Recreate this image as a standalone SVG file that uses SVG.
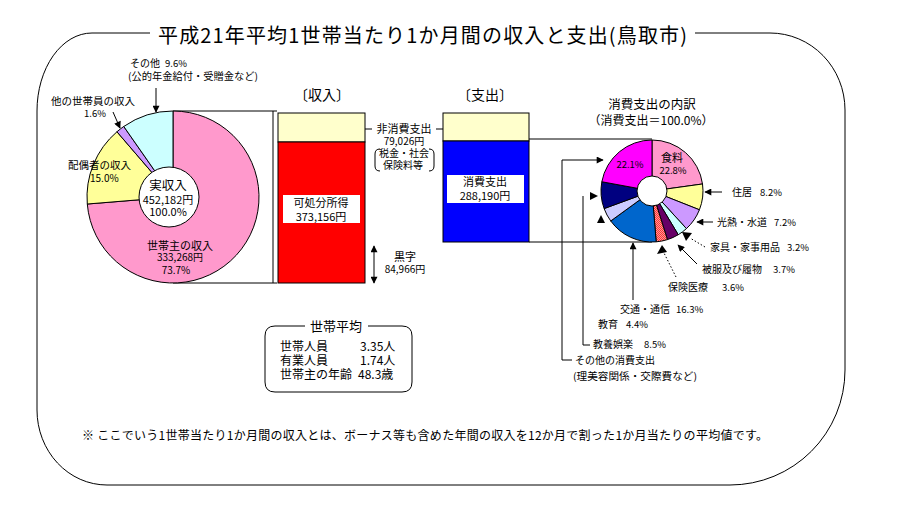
<svg xmlns="http://www.w3.org/2000/svg" width="911" height="518" viewBox="0 0 911 518">
<style>
text{font-family:"Noto Sans CJK JP","Noto Sans",sans-serif;fill:#000}
.ln{fill:none;stroke:#000;stroke-width:1}
.ar{fill:none;stroke:#000;stroke-width:1;marker-end:url(#ah)}
.dt{fill:none;stroke:#000;stroke-width:1;stroke-dasharray:1.5 2}
.wg{stroke:#000;stroke-width:1}
.f10{font-size:10px}.f11{font-size:11px}.f12{font-size:12px}.f13{font-size:13px}.f14{font-size:14px}.p9{font-size:9.5px}
</style>
<defs>
<marker id="ah" viewBox="0 0 10 10" refX="9" refY="5" markerWidth="8" markerHeight="7" markerUnits="userSpaceOnUse" orient="auto-start-reverse"><path d="M0,0 L10,5 L0,10 z" fill="#000"/></marker>
<pattern id="hatch" width="2" height="2" patternUnits="userSpaceOnUse"><rect width="2" height="2" fill="#FF9999"/><rect width="1" height="1" fill="#FF3333"/><rect x="1" y="1" width="1" height="1" fill="#FF3333"/></pattern>
</defs>
<rect width="911" height="518" fill="#fff"/>

<g id="frame">
<path class="ln" d="M150,33 H92 A55,78 0 0 0 37,111 V410 A70,75 0 0 0 107,485 H730 A115,115 0 0 0 845,370 V110 A75,77 0 0 0 770,33 H695"/>
<text x="158" y="43" style="font-size:20px" textLength="529" lengthAdjust="spacing">平成21年平均1世帯当たり1か月間の収入と支出(鳥取市)</text>
</g>

<g id="connectors">
<polyline class="ln" points="173,111 277,111"/>
<polyline class="ln" points="273,111 273,283"/>
<polyline class="ln" points="173,283 277,283"/>
<polyline class="ln" points="529,139 652,139"/>
<polyline class="ln" points="529,242 652,242"/>
<line class="ar" x1="156" y1="88" x2="156" y2="112"/>
<line class="ar" x1="113" y1="112" x2="120" y2="128"/>
<line class="ar" x1="372" y1="129" x2="347" y2="129"/>
<line class="ar" x1="436" y1="129" x2="462" y2="129"/>
<line class="ar" x1="374" y1="246" x2="374" y2="283" style="marker-start:url(#ah)"/>
<polyline class="ar" points="572,360 562,360 562,160 603,160"/>
<polyline class="ln" points="590,345 583,345 583,196"/>
<path d="M590,192 L598,196 L590,200 z"/>
<path d="M597,223 L601,215 L605,223 z"/>
<line class="ar" x1="633" y1="300" x2="633" y2="243"/>
<line class="dt" x1="676" y1="277" x2="664" y2="253"/>
<path d="M657,254 L662,245 L667,252 z"/>
<line class="ar" x1="697" y1="264" x2="678" y2="245"/>
<line class="dt" x1="705" y1="247" x2="690" y2="238"/>
<path d="M682,232 L692,233 L686,241 z"/>
<line class="ar" x1="713" y1="222" x2="697" y2="222"/>
<line class="ar" x1="722" y1="192" x2="705" y2="192"/>
</g>

<g id="income-pie">
<path class="wg" fill="#FF99CC" d="M173,197 L173,111 A86,86 0 1 1 87.29,204.02 Z"/>
<path class="wg" fill="#FFFF99" d="M173,197 L87.29,204.02 A86,86 0 0 1 116.94,131.78 Z"/>
<path class="wg" fill="#CC99FF" d="M173,197 L116.94,131.78 A86,86 0 0 1 123.77,126.48 Z"/>
<path class="wg" fill="#CCFFFF" d="M173,197 L123.77,126.48 A86,86 0 0 1 173,111 Z"/>
<circle cx="169" cy="197" r="30" fill="#fff" stroke="#000"/>
<text style="font-size:12.5px" x="168" y="190" text-anchor="middle">実収入</text>
<text class="f11" x="168" y="203.5" text-anchor="middle">452,182円</text>
<text class="f11" x="168" y="216" text-anchor="middle">100.0%</text>
<text class="f11" x="180" y="250" text-anchor="middle">世帯主の収入</text>
<text class="f10" x="180" y="261" text-anchor="middle">333,268円</text>
<text class="f10" x="176" y="274" text-anchor="middle">73.7%</text>
<text style="font-size:10.5px" x="68" y="169">配偶者の収入</text>
<text class="f10" x="90" y="182">15.0%</text>
<text style="font-size:10.5px" x="51" y="105">他の世帯員の収入</text>
<text class="p9" x="84" y="117">1.6%</text>
<text class="f10" x="130" y="67">その他<tspan class="p9" x="165">9.6%</tspan></text>
<text class="f10" x="128" y="80" textLength="130" lengthAdjust="spacingAndGlyphs">(公的年金給付・受贈金など)</text>
</g>

<g id="income-bar">
<text class="f14" x="322" y="100" text-anchor="middle">〔収入〕</text>
<rect x="278" y="113" width="87" height="29" fill="#FFFFCC" stroke="#000"/>
<rect x="278" y="142" width="87" height="141" fill="#FF0000" stroke="#000"/>
<rect x="283" y="195" width="77" height="28" fill="#fff"/>
<text class="f11" x="321" y="207" text-anchor="middle">可処分所得</text>
<text class="f11" x="321" y="221" text-anchor="middle">373,156円</text>
</g>

<g id="non-consumption">
<text class="f11" x="404" y="133" text-anchor="middle">非消費支出</text>
<text class="f10" x="404" y="145" text-anchor="middle">79,026円</text>
<text class="f10" x="404" y="157" text-anchor="middle">税金・社会</text>
<text class="f10" x="403" y="169" text-anchor="middle">保険料等</text>
<path class="ln" d="M380,149 Q375,149 375,154 L375,166 Q375,171 380,171"/>
<path class="ln" d="M429,149 Q434,149 434,154 L434,166 Q434,171 429,171"/>
</g>

<g id="surplus">
<text class="f11" x="405" y="261" text-anchor="middle">黒字</text>
<text class="f10" x="405" y="273" text-anchor="middle">84,966円</text>
</g>

<g id="expense-bar">
<text class="f14" x="485" y="100" text-anchor="middle">〔支出〕</text>
<rect x="443" y="113" width="86" height="28" fill="#FFFFCC" stroke="#000"/>
<rect x="443" y="141" width="86" height="101" fill="#0000FF" stroke="#000"/>
<rect x="447" y="175" width="77" height="28" fill="#fff"/>
<text class="f11" x="485" y="186" text-anchor="middle">消費支出</text>
<text class="f11" x="485" y="200" text-anchor="middle">288,190円</text>
</g>

<g id="expense-pie">
<text style="font-size:12.5px" x="652" y="109" text-anchor="middle">消費支出の内訳</text>
<text class="f12" x="651" y="125" text-anchor="middle">（消費支出＝100.0%）</text>
<path class="wg" fill="#FF99CC" d="M652,191 L652,140 A51,51 0 0 1 702.51,183.97 Z"/>
<path class="wg" fill="#FFFF99" d="M652,191 L702.51,183.97 A51,51 0 0 1 699.42,209.77 Z"/>
<path class="wg" fill="#CC99FF" d="M652,191 L699.42,209.77 A51,51 0 0 1 686.43,228.62 Z"/>
<path class="wg" fill="#CCFFFF" d="M652,191 L686.43,228.62 A51,51 0 0 1 678.24,234.73 Z"/>
<path class="wg" fill="#660066" d="M652,191 L678.24,234.73 A51,51 0 0 1 667.46,239.60 Z"/>
<path class="wg" fill="url(#hatch)" d="M652,191 L667.46,239.60 A51,51 0 0 1 656.16,241.83 Z"/>
<path class="wg" fill="#0066CC" d="M652,191 L656.16,241.83 A51,51 0 0 1 610.74,220.98 Z"/>
<path class="wg" fill="#CCCCFF" d="M652,191 L610.74,220.98 A51,51 0 0 1 604.12,208.58 Z"/>
<path class="wg" fill="#000080" d="M652,191 L604.12,208.58 A51,51 0 0 1 601.84,181.76 Z"/>
<path class="wg" fill="#FF00FF" d="M652,191 L601.84,181.76 A51,51 0 0 1 652,140 Z"/>
<circle cx="652" cy="191" r="15" fill="#fff" stroke="#000"/>
<text class="f11" x="672" y="162" text-anchor="middle">食料</text>
<text class="p9" x="673" y="174" text-anchor="middle">22.8%</text>
<text class="p9" x="630" y="168" text-anchor="middle">22.1%</text>
</g>

<g id="expense-labels">
<text class="f10" x="732" y="196">住居<tspan class="p9" x="760">8.2%</tspan></text>
<text class="f10" x="717" y="226">光熱・水道<tspan class="p9" x="774">7.2%</tspan></text>
<text class="f10" x="710" y="251">家具・家事用品<tspan class="p9" x="787">3.2%</tspan></text>
<text class="f10" x="702" y="273">被服及び履物<tspan class="p9" x="773">3.7%</tspan></text>
<text class="f10" x="668" y="291">保険医療<tspan class="p9" x="722">3.6%</tspan></text>
<text class="f10" x="620" y="313">交通・通信<tspan class="p9" x="676">16.3%</tspan></text>
<text class="f10" x="598" y="328">教育<tspan class="p9" x="626">4.4%</tspan></text>
<text class="f10" x="593" y="348">教養娯楽<tspan class="p9" x="644">8.5%</tspan></text>
<text class="f10" x="575" y="364">その他の消費支出</text>
<text class="f10" x="573" y="380" textLength="124" lengthAdjust="spacingAndGlyphs">(理美容関係・交際費など)</text>
</g>

<g id="household-average">
<path class="ln" d="M305,326 H275 Q265,326 265,336 V382 Q265,392 275,392 H402 Q412,392 412,382 V336 Q412,326 402,326 H368"/>
<text class="f13" x="336" y="331" text-anchor="middle">世帯平均</text>
<text class="f12" x="280" y="351">世帯人員</text>
<text class="f12" x="360" y="351">3.35人</text>
<text class="f12" x="280" y="365">有業人員</text>
<text class="f12" x="360" y="365">1.74人</text>
<text class="f12" x="280" y="379">世帯主の年齢</text>
<text class="f12" x="358" y="379">48.3歳</text>
</g>

<g id="footnote">
<text class="f12" x="82" y="440" textLength="686" lengthAdjust="spacing">※ ここでいう1世帯当たり1か月間の収入とは、ボーナス等も含めた年間の収入を12か月で割った1か月当たりの平均値です。</text>
</g>
</svg>
